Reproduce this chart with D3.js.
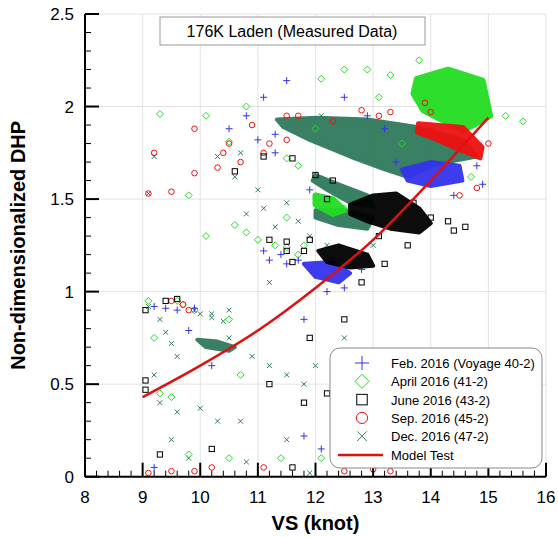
<!DOCTYPE html>
<html><head><meta charset="utf-8">
<script src="https://cdn.jsdelivr.net/npm/d3@7"></script>
<style>body{margin:0;background:#fff}svg{font-family:Arial,"Liberation Sans",sans-serif}</style>
</head><body><svg id="c" width="558" height="537"></svg>
<script>
const xTicks=[8,9,10,11,12,13,14,15,16];
const yTicks=[0,0.5,1,1.5,2,2.5];
const seriesNames=["Feb. 2016 (Voyage 40-2)","April 2016 (41-2)","June 2016 (43-2)","Sep. 2016 (45-2)","Dec. 2016 (47-2)"];
const modelTest=[[9,0.43],[10,0.6],[11,0.79],[12,1.02],[13,1.28],[14,1.6],[15,1.94]];
// dense regions (outlines of point clouds)
const febDense=[[[13.5,1.66],[14.0,1.70],[14.5,1.68],[14.55,1.6],[14.0,1.57],[13.6,1.6]],[[11.8,1.15],[12.3,1.16],[12.6,1.1],[12.4,1.05],[12.0,1.08]]];
const aprDense=[[[13.76,2.15],[14.3,2.2],[14.9,2.14],[15.03,1.95],[14.56,1.87],[13.87,1.98],[13.7,2.07]],[[12.0,1.52],[12.3,1.5],[12.5,1.44],[12.3,1.42],[12.0,1.47]]];
const junDense=[[[12.6,1.47],[13.0,1.52],[13.4,1.53],[13.8,1.45],[14.0,1.37],[13.8,1.32],[13.3,1.34],[12.9,1.38],[12.6,1.42]],[[12.05,1.22],[12.4,1.25],[12.9,1.2],[13.0,1.14],[12.6,1.13],[12.2,1.16]]];
const sepDense=[[[13.78,1.91],[14.56,1.89],[14.9,1.78],[14.86,1.72],[14.46,1.77],[14.1,1.82],[13.76,1.86]]];
const decDense=[[[11.33,1.93],[12.03,1.94],[12.9,1.93],[13.76,1.89],[14.56,1.82],[14.8,1.73],[14.1,1.69],[13.6,1.62],[13.2,1.66],[12.6,1.73],[11.9,1.82],[11.44,1.89]],
 [[12.0,1.63],[12.4,1.58],[12.9,1.52],[13.0,1.46],[12.6,1.48],[12.2,1.55],[11.95,1.6]],
 [[12.0,1.44],[12.5,1.44],[13.0,1.40],[12.9,1.34],[12.4,1.36],[12.0,1.40]],
 [[9.95,0.74],[10.3,0.73],[10.6,0.70],[10.5,0.68],[10.1,0.70]]];
const febPts=[[9.2,0.92],[9.4,0.91],[9.6,0.9],[9.9,0.91],[9.8,0.79],[10.5,1.88],[10.8,1.95],[11.1,2.05],[11.3,1.85],[11.0,1.82],[11.3,1.75],[11.5,2.14],[11.9,1.55],[11.1,1.22],[11.2,1.17],[11.5,1.15],[11.7,1.17],[11.4,1.2],[12.5,2.05],[12.9,1.95],[13.2,1.88],[14.8,1.68],[14.9,1.58],[14.4,1.52],[13.6,1.47],[12.2,1.0],[12.5,1.02],[11.8,0.85],[9.2,0.05],[13.4,1.7],[11.8,0.22],[12.1,0.15],[10.2,0.6],[12.8,1.12],[12.3,1.18]];
const aprPts=[[9.1,0.95],[9.2,0.75],[9.6,0.95],[9.7,0.93],[9.9,0.9],[9.3,0.45],[9.5,0.43],[10.5,0.85],[10.1,1.3],[10.6,1.36],[10.8,1.32],[11.0,1.28],[11.3,1.25],[11.5,1.24],[11.7,1.2],[11.8,1.25],[11.5,1.4],[10.1,1.95],[10.5,1.81],[10.8,2.0],[11.7,1.68],[11.5,1.72],[9.3,1.96],[9.8,1.52],[12.1,2.15],[12.5,2.2],[12.9,2.2],[13.3,2.17],[13.8,2.25],[12.2,1.5],[12.5,1.45],[12.1,0.1],[11.4,0.1],[10.5,0.1],[10.7,0.55],[9.8,0.12],[15.6,1.92],[15.3,1.95],[14.7,1.62],[13.5,1.8],[12.0,1.88],[13.1,2.05]];
const junPts=[[9.05,0.47],[9.05,0.52],[9.05,0.9],[9.4,0.95],[9.6,0.96],[10.6,1.65],[11.1,1.73],[11.6,1.72],[12.0,1.63],[12.3,1.6],[11.9,1.28],[11.5,1.22],[11.5,1.27],[11.2,1.28],[11.6,1.16],[11.8,1.22],[12.2,1.5],[13.7,1.48],[14.0,1.4],[14.3,1.38],[14.6,1.35],[14.4,1.33],[13.6,1.25],[13.2,1.15],[12.8,1.05],[12.5,0.85],[11.9,0.75],[11.2,0.5],[11.8,0.4],[12.2,0.45],[10.2,0.15],[9.3,0.12],[11.6,0.05],[13.1,1.3]];
const sepPts=[[9.1,1.53],[9.2,1.75],[9.5,1.54],[9.9,1.64],[9.9,1.88],[10.3,1.67],[10.4,1.75],[10.5,1.8],[10.7,1.7],[11.1,1.75],[11.2,1.8],[11.5,1.82],[11.5,1.95],[11.7,1.95],[10.9,1.9],[12.3,1.92],[12.8,1.98],[13.1,1.95],[13.3,1.97],[14.8,1.56],[14.5,1.52],[15.0,1.8],[9.5,0.95],[9.7,0.93],[9.8,0.9],[9.1,0.02],[9.5,0.03],[9.9,0.03],[10.2,0.05],[11.1,0.05],[12.5,0.03],[13.0,0.04],[13.3,0.03],[14.0,1.97],[13.9,2.02]];
const decPts=[[9.1,0.92],[9.3,0.85],[9.4,0.78],[9.5,0.72],[9.6,0.65],[9.2,0.55],[9.3,0.4],[9.6,0.35],[10.0,0.37],[10.3,0.3],[9.5,0.2],[9.8,0.1],[10.8,0.08],[11.9,0.02],[9.1,1.53],[9.2,1.73],[10.3,1.73],[10.7,1.75],[10.6,1.62],[11.0,1.55],[11.1,1.45],[10.8,1.42],[11.5,1.48],[11.3,1.35],[11.7,1.38],[11.9,1.3],[11.2,1.05],[10.5,0.75],[10.9,0.65],[11.2,0.6],[11.5,0.55],[11.8,0.5],[12.0,0.6],[12.5,0.75],[10.7,0.3],[11.5,0.2],[10.5,0.9],[10.2,0.88],[12.2,1.25],[13.0,1.25],[12.1,1.95],[9.9,0.9],[10.0,0.88],[10.2,0.86],[10.4,0.84]];

const colors=["#3333ee","#22dd22","#000000","#ee1111","#2f7a5c"];
const svg=d3.select("#c");
const x=d3.scaleLinear().domain([8,16]).range([85,546]);
const y=d3.scaleLinear().domain([0,2.5]).range([476.7,14]);
// grid
svg.append("g").selectAll("line").data(xTicks.slice(1)).join("line").attr("x1",d=>x(d)).attr("x2",d=>x(d)).attr("y1",y(2.5)).attr("y2",y(0)).attr("stroke","#e2e2e2");
svg.append("g").selectAll("line").data(yTicks.slice(1)).join("line").attr("x1",x(8)).attr("x2",x(16)).attr("y1",d=>y(d)).attr("y2",d=>y(d)).attr("stroke","#e2e2e2");
// title box
svg.append("rect").attr("x",160).attr("y",17).attr("width",265).attr("height",28).attr("fill","#fff").attr("stroke","#999");
svg.append("text").attr("x",292).attr("y",37).attr("text-anchor","middle").attr("font-size",16).text("176K Laden (Measured Data)");
const sym={
 0:d3.symbol().type(d3.symbolCross).size(40),
};
function marker(g,i,px,py,s){
 const c=colors[i];
 if(i===0){g.append("path").attr("d",`M${px-s},${py}H${px+s}M${px},${py-s}V${py+s}`).attr("stroke",c).attr("stroke-width",1);}
 else if(i===1){g.append("path").attr("d",`M${px},${py-s}L${px+s},${py}L${px},${py+s}L${px-s},${py}Z`).attr("stroke",c).attr("fill","none");}
 else if(i===2){g.append("rect").attr("x",px-s*0.75).attr("y",py-s*0.75).attr("width",s*1.5).attr("height",s*1.5).attr("stroke",c).attr("fill","none");}
 else if(i===3){g.append("circle").attr("cx",px).attr("cy",py).attr("r",s*0.8).attr("stroke",c).attr("fill","none");}
 else {const t=s*0.7;g.append("path").attr("d",`M${px-t},${py-t}L${px+t},${py+t}M${px-t},${py+t}L${px+t},${py-t}`).attr("stroke",c);}
}
const dense=[febDense,aprDense,junDense,sepDense,decDense];
const pts=[febPts,aprPts,junPts,sepPts,decPts];
const order=[4,1,0,3,2];
const line=d3.line().x(d=>x(d[0])).y(d=>y(d[1])).curve(d3.curveLinearClosed);
const plot=svg.append("g");
order.forEach(i=>{
 const g=plot.append("g");
 dense[i].forEach(p=>g.append("path").attr("d",line(p)).attr("fill",colors[i]).attr("stroke",colors[i]).attr("stroke-width",i===1?6:4).attr("stroke-linejoin","round").attr("opacity",0.95));
 pts[i].forEach(d=>marker(g,i,x(d[0]),y(d[1]),3.5));
});
plot.append("path").attr("d",d3.line().curve(d3.curveMonotoneX).x(d=>x(d[0])).y(d=>y(d[1]))(modelTest)).attr("fill","none").attr("stroke","#dd1111").attr("stroke-width",2.5);
// axes
const ax=svg.append("g").attr("stroke","#000");
ax.append("line").attr("x1",x(8)).attr("x2",x(16)).attr("y1",y(0)).attr("y2",y(0)).attr("stroke-width",2);
ax.append("line").attr("x1",x(8)).attr("x2",x(8)).attr("y1",y(0)).attr("y2",y(2.5)).attr("stroke-width",2);
const minorX=d3.range(8,16.01,0.2), minorY=d3.range(0,2.501,0.1);
ax.selectAll(".mx").data(minorX).join("line").attr("x1",d=>x(d)).attr("x2",d=>x(d)).attr("y1",y(0)).attr("y2",d=>y(0)-(Math.abs(d-Math.round(d))<1e-6?14:6)).attr("stroke-width",d=>Math.abs(d-Math.round(d))<1e-6?2:1);
ax.selectAll(".my").data(minorY).join("line").attr("y1",d=>y(d)).attr("y2",d=>y(d)).attr("x1",x(8)).attr("x2",d=>x(8)+(Math.abs(d*2-Math.round(d*2))<1e-6?14:6)).attr("stroke-width",d=>Math.abs(d*2-Math.round(d*2))<1e-6?2:1);
svg.append("g").selectAll("text").data(xTicks).join("text").attr("x",d=>x(d)).attr("y",503).attr("text-anchor","middle").attr("font-size",17).text(d=>d);
svg.append("g").selectAll("text").data(yTicks).join("text").attr("x",74).attr("y",d=>y(d)+6).attr("text-anchor","end").attr("font-size",17).text(d=>d);
svg.append("text").attr("x",x(12)).attr("y",530).attr("text-anchor","middle").attr("font-size",20).attr("font-weight","bold").text("VS (knot)");
svg.append("text").attr("transform",`translate(25,${y(1.25)}) rotate(-90)`).attr("text-anchor","middle").attr("font-size",20).attr("font-weight","bold").text("Non-dimensionalized DHP");
// legend
const lg=svg.append("g");
lg.append("rect").attr("x",330).attr("y",348).attr("width",212).attr("height",120).attr("rx",10).attr("fill","#fff").attr("stroke","#888");
seriesNames.forEach((n,i)=>{
 const yy=363+i*18.3;
 marker(lg,i,362,yy,7);
 lg.append("text").attr("x",391).attr("y",yy+5).attr("font-size",13).text(n);
});
lg.append("line").attr("x1",338).attr("x2",383).attr("y1",455).attr("y2",455).attr("stroke","#dd1111").attr("stroke-width",2.5);
lg.append("text").attr("x",391).attr("y",460).attr("font-size",13).text("Model Test");
</script></body></html>
